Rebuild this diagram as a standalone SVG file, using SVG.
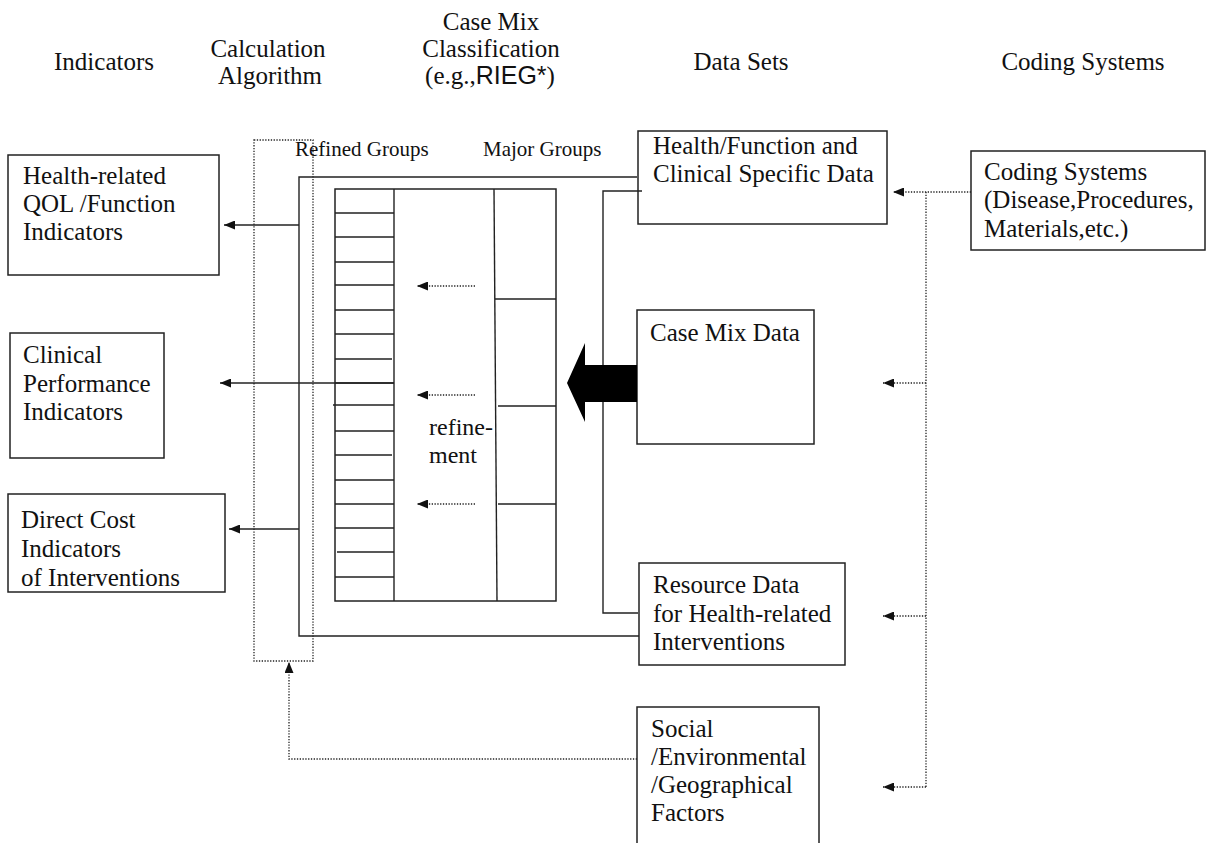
<svg xmlns="http://www.w3.org/2000/svg" width="1206" height="843" viewBox="0 0 1206 843" font-family="'Liberation Serif', 'Times New Roman', serif">
<style>
text{font-family:'Liberation Serif','Times New Roman',serif;font-size:25px;fill:#111}
text.sm{font-size:21px}
text.rf{font-size:24px}
tspan.sans{font-family:'Liberation Sans',Arial,sans-serif}
.box{fill:#fff;stroke:#222;stroke-width:1.5}
.ln{fill:none;stroke:#222;stroke-width:1.4}
.dot{fill:none;stroke:#222;stroke-width:1.3;stroke-dasharray:1.3 1.5}
</style>
<defs>
<marker id="ah" markerWidth="11" markerHeight="9" refX="11" refY="4.5" orient="auto" markerUnits="userSpaceOnUse">
<path d="M0,0 L11,4.5 L0,9 Z" fill="#111"/>
</marker>
</defs>
<rect width="1206" height="843" fill="#fff"/>

<g id="headers" font-family="'Liberation Serif', 'Times New Roman', serif">
<text x="104" y="70" text-anchor="middle">Indicators</text>
<text x="268" y="57" text-anchor="middle">Calculation</text>
<text x="270" y="84" text-anchor="middle">Algorithm</text>
<text x="491" y="30" text-anchor="middle">Case Mix</text>
<text x="491" y="57" text-anchor="middle">Classification</text>
<text x="490" y="84" text-anchor="middle">(e.g.,<tspan class="sans" font-family="'Liberation Sans', Arial, sans-serif">RIEG*</tspan>)</text>
<text x="741" y="70" text-anchor="middle">Data Sets</text>
<text x="1083" y="70" text-anchor="middle">Coding Systems</text>
</g>

<g id="calc-algorithm">
<rect x="254" y="140" width="59" height="521" class="dot"/>
</g>

<g id="casemix-classification" font-family="'Liberation Serif', 'Times New Roman', serif">
<rect x="335" y="189" width="221" height="412" class="box"/>
<line x1="394" y1="189" x2="394" y2="601" class="ln"/>
<path class="ln" d="M494,189 L497,601"/>
<path class="ln" d="M335,213H394M335,237H394M335,262H394M335,285H394M335,310H394M335,334H394M335,359H392M335,383H394M333,405H394M335,431H394M335,455H392M335,480H394M335,504H394M335,528H394M337,552H394M335,577H394"/>
<path class="ln" d="M495,299H556M498,406H556M498,504H556"/>
<text x="295" y="156" class="sm">Refined Groups</text>
<text x="483" y="156" class="sm">Major Groups</text>
<text x="429" y="435" class="rf">refine-</text>
<text x="429" y="463" class="rf">ment</text>
</g>

<g id="ind-qol" font-family="'Liberation Serif', 'Times New Roman', serif">
<rect x="8" y="155" width="211" height="120" class="box"/>
<text x="23" y="184">Health-related</text>
<text x="23" y="212">QOL /Function</text>
<text x="23" y="240">Indicators</text>
</g>
<g id="ind-clinical" font-family="'Liberation Serif', 'Times New Roman', serif">
<rect x="10" y="333" width="154" height="125" class="box"/>
<text x="23" y="363">Clinical</text>
<text x="23" y="392">Performance</text>
<text x="23" y="420">Indicators</text>
</g>
<g id="ind-cost" font-family="'Liberation Serif', 'Times New Roman', serif">
<rect x="8" y="494" width="217" height="98" class="box"/>
<text x="21" y="528">Direct Cost</text>
<text x="21" y="557">Indicators</text>
<text x="21" y="586">of Interventions</text>
</g>

<g id="data-health" font-family="'Liberation Serif', 'Times New Roman', serif">
<rect x="638" y="131" width="249" height="93" class="box"/>
<text x="653" y="154">Health/Function and</text>
<text x="653" y="182">Clinical Specific Data</text>
</g>
<g id="data-casemix" font-family="'Liberation Serif', 'Times New Roman', serif">
<rect x="637" y="310" width="177" height="134" class="box"/>
<text x="650" y="341">Case Mix Data</text>
</g>
<g id="data-resource" font-family="'Liberation Serif', 'Times New Roman', serif">
<rect x="639" y="563" width="206" height="102" class="box"/>
<text x="653" y="593">Resource Data</text>
<text x="653" y="622">for Health-related</text>
<text x="653" y="650">Interventions</text>
</g>
<g id="factors-social" font-family="'Liberation Serif', 'Times New Roman', serif">
<rect x="637" y="707" width="182" height="150" class="box"/>
<text x="651" y="737">Social</text>
<text x="651" y="765">/Environmental</text>
<text x="651" y="793">/Geographical</text>
<text x="651" y="821">Factors</text>
</g>
<g id="coding-systems" font-family="'Liberation Serif', 'Times New Roman', serif">
<rect x="971" y="151" width="234" height="99" class="box"/>
<text x="984" y="180">Coding Systems</text>
<text x="984" y="208">(Disease,Procedures,</text>
<text x="984" y="237">Materials,etc.)</text>
</g>

<g id="connectors">
<path class="ln" d="M637,177H299V636H639"/>
<path class="ln" d="M642,191H603V613H638"/>
<line x1="299" y1="225" x2="224" y2="225" class="ln" marker-end="url(#ah)"/>
<line x1="394" y1="383" x2="220" y2="383" class="ln" marker-end="url(#ah)"/>
<line x1="299" y1="529" x2="229" y2="529" class="ln" marker-end="url(#ah)"/>
<polygon points="637,365 585,365 585,343 567,383 585,422 585,402 637,402" fill="#000"/>
<line x1="475" y1="286" x2="417" y2="286" class="dot" marker-end="url(#ah)"/>
<line x1="475" y1="395" x2="417" y2="395" class="dot" marker-end="url(#ah)"/>
<line x1="475" y1="504" x2="417" y2="504" class="dot" marker-end="url(#ah)"/>
<path class="dot" d="M637,759H289V662" marker-end="url(#ah)"/>
<line x1="971" y1="192" x2="893" y2="192" class="dot" marker-end="url(#ah)"/>
<line x1="926" y1="192" x2="926" y2="787" class="dot"/>
<line x1="926" y1="383" x2="883" y2="383" class="dot" marker-end="url(#ah)"/>
<line x1="926" y1="616" x2="883" y2="616" class="dot" marker-end="url(#ah)"/>
<line x1="926" y1="787" x2="883" y2="787" class="dot" marker-end="url(#ah)"/>
</g>
</svg>
